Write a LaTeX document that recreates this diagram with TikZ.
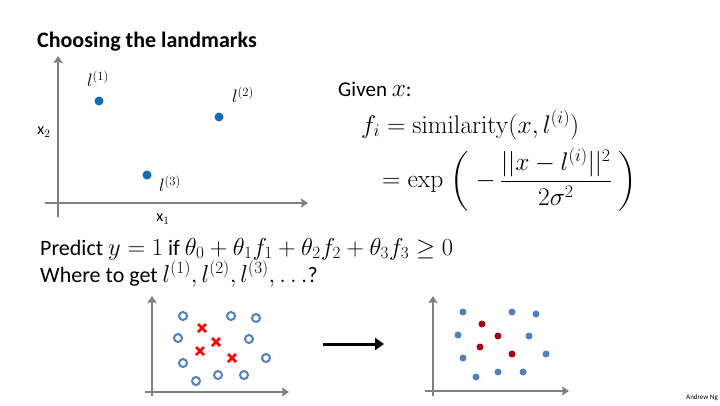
\RequirePackage{fix-cm}
\documentclass[tikz,border=0pt]{standalone}
\usepackage{amsmath}
\usepackage[no-math]{fontspec}
\setmainfont{Carlito}
\usetikzlibrary{arrows.meta}
\definecolor{axisgray}{RGB}{128,128,128}
\definecolor{lmblue}{RGB}{21,106,180}
\definecolor{ptblue}{RGB}{79,129,189}
\definecolor{ptred}{RGB}{255,0,0}
\definecolor{ptdark}{RGB}{165,0,21}
\newcommand{\mymath}[1]{{\fontsize{25.5}{30}\selectfont$#1$}}
\newcommand{\mymathb}[1]{{\fontsize{24.5}{29}\selectfont$#1$}}
\begin{document}
\begin{tikzpicture}[x=1pt,y=-1pt,
  axis/.style={draw=axisgray,line width=2.6pt,-{Stealth[length=7pt,width=9pt,inset=1pt]}},
  txt/.style={inner sep=0pt,anchor=base west,font=\fontsize{22}{26}\selectfont},
  lmk/.style={circle,fill=lmblue,inner sep=0pt,minimum size=9pt},
  lmlab/.style={inner sep=0pt,font=\fontsize{18}{20}\selectfont},
  axlab/.style={inner sep=0pt,font=\fontsize{16}{18}\selectfont},
  opos/.style={circle,draw=ptblue,line width=2pt,inner sep=0pt,minimum size=8pt},
  dotb/.style={circle,fill=ptblue,inner sep=0pt,minimum size=7pt},
  dotr/.style={circle,fill=ptdark,inner sep=0pt,minimum size=7pt},
  xmk/.style={draw=ptred,line width=2.6pt}]
\useasboundingbox (0,0) rectangle (720,405);

% title
\node[txt,font=\fontsize{22}{26}\selectfont\bfseries] (title) at (37,47) {Choosing the landmarks};

% top-left plot
\coordinate (a1b) at (58,217);
\coordinate (a1t) at (58,56);
\coordinate (a1l) at (45,203);
\coordinate (a1r) at (308,203);
\draw[axis] (a1b) -- (a1t);
\draw[axis] (a1l) -- (a1r);
\node[lmk] (l1) at (99,101) {};
\node[lmk] (l2) at (219,117) {};
\node[lmk] (l3) at (147,175) {};
\node[lmlab] (l1t) at (98,79) {$l^{(1)}$};
\node[lmlab] (l2t) at (243,95) {$l^{(2)}$};
\node[lmlab] (l3t) at (170,184) {$l^{(3)}$};
\node[axlab] (x2) at (44,132) {x$_2$};
\node[axlab] (x1) at (163,219) {x$_1$};

% formulas
\node[txt,font=\fontsize{21}{25}\selectfont] (given) at (338,96) {Given \mymath{x}:};
\node[inner sep=0pt,anchor=base west] (f1) at (361,133)
  {\mymath{f_i = \mathrm{similarity}(x,l^{(i)})}};
\node[inner sep=0pt,anchor=west] (f2) at (382,180)
  {\mymath{\displaystyle = \exp\;\biggl(\;-\,\frac{||x-l^{(i)}||^2}{2\sigma^2}\;\biggr)}};

% predict lines
\node[txt] (pred) at (40,255) {Predict \mymathb{y=1} if \mymathb{\theta_0+\theta_1f_1+\theta_2f_2+\theta_3f_3\geq 0}};
\node[txt] (where) at (40,282) {Where to get\ \mymathb{l^{(1)},l^{(2)},l^{(3)},\ldots}?};

% bottom-left plot
\coordinate (b1b) at (152,396);
\coordinate (b1t) at (152,296);
\coordinate (b1l) at (145,392);
\coordinate (b1r) at (289,392);
\draw[axis] (b1b) -- (b1t);
\draw[axis] (b1l) -- (b1r);
\foreach \n/\x/\y in {1/183/316,2/231/316,3/256/318,4/178/338,5/249/339,6/266/358,7/183/363,8/196/381,9/218/375,10/244/375}
  \node[opos] (o\n) at (\x,\y) {};
\foreach \n/\x/\y in {1/202/328,2/216/342,3/200/351,4/232/358}{
  \coordinate (xc\n) at (\x,\y);
  \draw[xmk] ([shift={(-4,-4)}]xc\n) -- ([shift={(4,4)}]xc\n);
  \draw[xmk] ([shift={(-4,4)}]xc\n) -- ([shift={(4,-4)}]xc\n);
}

% arrow
\coordinate (arS) at (323,344);
\coordinate (arE) at (384,344);
\draw[line width=3pt,-{Triangle[length=9pt,width=12pt]}] (arS) -- (arE);

% bottom-right plot
\coordinate (b2b) at (433,396);
\coordinate (b2t) at (433,296);
\coordinate (b2l) at (425,391);
\coordinate (b2r) at (569,391);
\draw[axis] (b2b) -- (b2t);
\draw[axis] (b2l) -- (b2r);
\foreach \n/\x/\y in {1/463/312,2/512/312,3/536/314,4/458/335,5/529/336,6/546/354,7/463/358,8/476/377,9/498/372,10/523/372}
  \node[dotb] (d\n) at (\x,\y) {};
\foreach \n/\x/\y in {1/482/324,2/498/336,3/480/347,4/512/354}
  \node[dotr] (r\n) at (\x,\y) {};

\node[inner sep=0pt,anchor=base east,font=\fontsize{7}{8}\selectfont] (ng) at (718,399) {Andrew Ng};
\end{tikzpicture}
\end{document}
